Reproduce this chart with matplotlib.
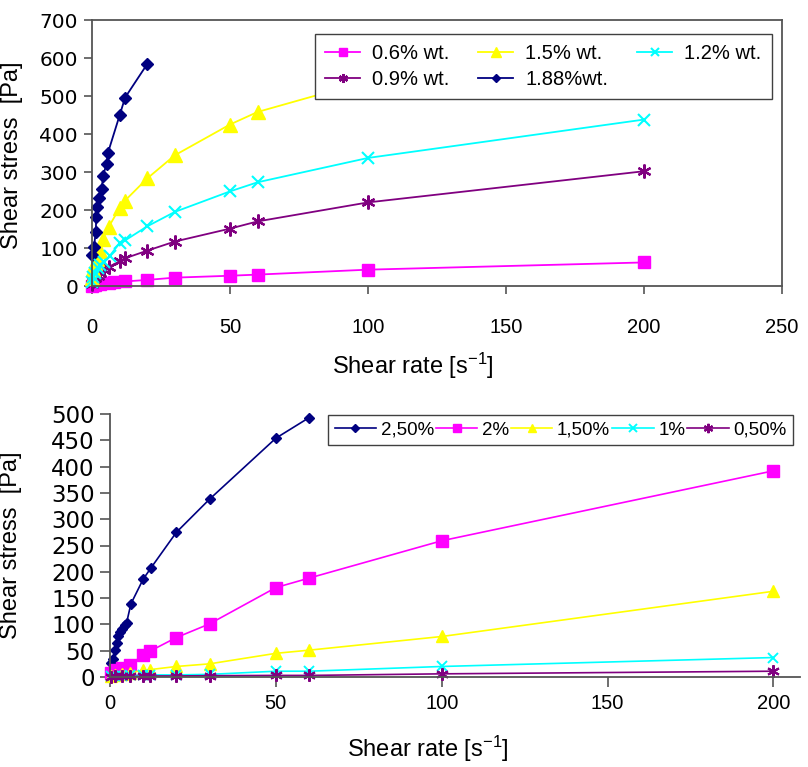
import matplotlib
matplotlib.use("Agg")
import matplotlib.pyplot as plt

plt.rcParams['font.family'] = ['Liberation Sans', 'DejaVu Sans']
plt.rcParams['mathtext.default'] = 'regular'

# ---- top chart data (shear rate [1/s], shear stress [Pa]) ----
x_06 = [0.1, 1, 3, 6, 8, 12, 20, 30, 50, 60, 100, 200]
y_06 = [1, 3, 5, 8, 10, 12, 16, 22, 27, 30, 43, 62]

x_09 = [0.1, 0.5, 1, 2, 3, 4.5, 6, 10, 12, 20, 30, 50, 60, 100, 200]
y_09 = [5, 12, 20, 27, 33, 42, 50, 65, 73, 93, 117, 151, 170, 220, 302]

x_12 = [0.1, 0.5, 1, 2, 3, 4.5, 6.5, 10, 12, 20, 30, 50, 60, 100, 200]
y_12 = [10, 25, 35, 48, 55, 64, 80, 113, 120, 157, 195, 249, 273, 337, 438]

# last points of the 1.5% curve sit behind the legend in the original
x_15 = [0.1, 0.5, 1, 1.7, 2.9, 4, 6, 10, 12, 20, 30, 50, 60, 100, 200]
y_15 = [20, 45, 60, 70, 92, 125, 155, 205, 225, 283, 344, 425, 458, 540, 620]

x_188 = [0.1, 0.7, 1.4, 1.5, 1.8, 2.4, 3.5, 4, 5.3, 5.8, 10, 12, 20]
y_188 = [82, 103, 143, 182, 209, 232, 254, 290, 322, 351, 449, 496, 584]

# ---- bottom chart data ----
x_250 = [0.3, 1, 1.5, 2, 2.5, 3, 3.5, 4.5, 5, 6.3, 10, 12.3, 20, 30, 50, 60]
y_250 = [26, 35, 51, 64, 77, 86, 92, 99, 103, 139, 186, 207, 275, 338, 454, 493]

x_b = [0.3, 1.5, 3.5, 6, 10, 12, 20, 30, 50, 60, 100, 200]
y_200 = [7, 13, 18, 23, 42, 49, 75, 101, 170, 188, 259, 392]
y_150 = [2, 4, 6, 8, 13, 14, 20, 25, 45, 51, 77, 163]
y_100 = [1, 2, 2, 3, 3, 4, 4, 5, 11, 11, 20, 37]
y_050 = [0.5, 1, 1, 1, 1.5, 2, 2, 2.5, 3, 3, 6, 11]

MAG = '#FF00FF'
YEL = '#FFFF00'
CYA = '#00FFFF'
PUR = '#800080'
NAV = '#000080'
AXC = '#555555'
STAR = (6, 2, 0)

fig = plt.figure(figsize=(8.08, 7.67), dpi=100)

# ================= top chart =================
ax1 = fig.add_axes([92/808, 1-286/767, 690/808, 266/767])
kw = dict(lw=1.3, clip_on=False)
l06, = ax1.plot(x_06, y_06, color=MAG, marker='s', ms=9, mec=MAG, label='0.6% wt.', **kw)
l09, = ax1.plot(x_09, y_09, color=PUR, marker=STAR, ms=10, mew=1.6, mec=PUR, label='0.9% wt.', **kw)
l15, = ax1.plot(x_15, y_15, color=YEL, marker='^', ms=10, mec=YEL, label='1.5% wt.', **kw)
l188, = ax1.plot(x_188, y_188, color=NAV, marker='D', ms=6.5, mec=NAV, label='1.88%wt.', **kw)
l12, = ax1.plot(x_12, y_12, color=CYA, marker='x', ms=9, mew=1.5, mec=CYA, label='1.2% wt.', **kw)

ax1.set_xlim(0, 250)
ax1.set_ylim(0, 700)
ax1.set_xticks(range(0, 251, 50))
ax1.set_yticks(range(0, 701, 100))
for s in ax1.spines.values():
    s.set_color(AXC)
    s.set_linewidth(1.3)
ax1.tick_params(axis='y', direction='out', length=6, width=1.2, color=AXC,
                labelsize=14.5, pad=4)
ax1.tick_params(axis='x', direction='out', length=6, width=1.2, color=AXC,
                labelsize=14.5, pad=17)
for t in ax1.get_yticklabels():
    t.set_fontfamily('DejaVu Sans')
ax1.set_xlabel('Shear rate [s$^{-1}$]', fontsize=17)
ax1.xaxis.set_label_coords(0.465, -0.245)
ax1.set_ylabel('Shear stress  [Pa]', fontsize=17)
ax1.yaxis.set_label_coords(-0.10, 0.49)

leg1 = ax1.legend(handles=[l06, l09, l15, l188, l12], ncol=3,
                  loc='upper left', bbox_to_anchor=(0.323, 0.71, 0.662, 0.237),
                  mode='expand', fontsize=14.5, frameon=True, fancybox=False,
                  framealpha=1, edgecolor='#404040', markerscale=0.65,
                  handlelength=1.75, handletextpad=0.6, columnspacing=1.0,
                  labelspacing=0.35, borderpad=0.5, borderaxespad=0)
leg1.get_frame().set_linewidth(1.0)
leg1.set_zorder(5)

# ================= bottom chart =================
ax2 = fig.add_axes([110/808, 1-677/767, 690/808, 263/767])
kw = dict(lw=1.2, clip_on=False)
m250, = ax2.plot(x_250, y_250, color=NAV, marker='D', ms=5.5, mec=NAV, label='2,50%', **kw)
m200, = ax2.plot(x_b, y_200, color=MAG, marker='s', ms=8, mec=MAG, label='2%', **kw)
m150, = ax2.plot(x_b, y_150, color=YEL, marker='^', ms=8.5, mec=YEL, label='1,50%', **kw)
m100, = ax2.plot(x_b, y_100, color=CYA, marker='x', ms=7.5, mew=1.4, mec=CYA, label='1%', **kw)
m050, = ax2.plot(x_b, y_050, color=PUR, marker=STAR, ms=9, mew=1.5, mec=PUR, label='0,50%', **kw)

ax2.set_xlim(0, 208)
ax2.set_ylim(0, 500)
ax2.set_xticks(range(0, 201, 50))
ax2.set_yticks(range(0, 501, 50))
ax2.spines['top'].set_visible(False)
ax2.spines['right'].set_visible(False)
for s in ('left', 'bottom'):
    ax2.spines[s].set_color(AXC)
    ax2.spines[s].set_linewidth(1.3)
ax2.tick_params(axis='y', direction='out', length=7, width=1.2, color=AXC,
                labelsize=16.5, pad=4)
ax2.tick_params(axis='x', direction='out', length=7, width=1.2, color=AXC,
                labelsize=14.5, pad=5)
for t in ax2.get_yticklabels():
    t.set_fontfamily('DejaVu Sans')
ax2.set_xlabel('Shear rate [s$^{-1}$]', fontsize=17)
ax2.xaxis.set_label_coords(0.461, -0.215)
ax2.set_ylabel('Shear stress  [Pa]', fontsize=17)
ax2.yaxis.set_label_coords(-0.128, 0.50)

leg2 = ax2.legend(handles=[m250, m200, m150, m100, m050], ncol=5,
                  loc='upper left', bbox_to_anchor=(0.316, 0.996, 0.674, 0.0),
                  mode='expand', fontsize=13.5, frameon=True, fancybox=False,
                  framealpha=1, edgecolor='#404040', markerscale=0.75,
                  handlelength=2.2, handletextpad=0.25, columnspacing=0.5,
                  borderpad=0.35, borderaxespad=0)
leg2.get_frame().set_linewidth(1.0)

fig.savefig('out.png', dpi=100)
